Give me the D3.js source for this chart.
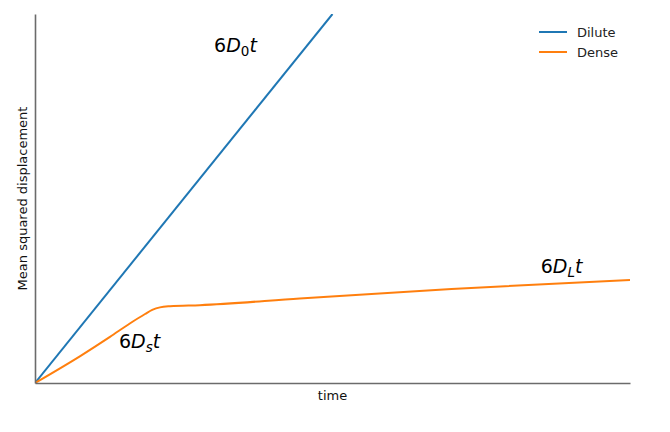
<!DOCTYPE html>
<html>
<head>
<meta charset="utf-8">
<script src="https://cdn.jsdelivr.net/npm/d3@7"></script>
<style>
  html, body { margin: 0; padding: 0; background: #fff; }
  svg { display: block; }
  text { font-family: "DejaVu Sans", sans-serif; }
</style>
</head>
<body>
<svg id="chart" width="670" height="432"></svg>
<script>
// Data (arbitrary time units 0-100, MSD units 0-100)
const dilute = [[0, 0], [50, 100]];
const dense = [
  [0, 0], [7.6, 7.3], [12.6, 12.5], [16, 16.2], [18.5, 18.7],
  [19.7, 19.8], [21.0, 20.5], [22.7, 20.8], [27.7, 21.1], [44.5, 22.9], [70, 25.5], [100, 27.9]
];
const seriesNames = ["Dilute", "Dense"];
const seriesColors = ["#1f77b4", "#ff7f0e"];
const annotations = [
  { base: "6D", sub: "0", tail: "t", x: 30.1, y: 89.7 },
  { base: "6D", sub: "s", tail: "t", x: 14.1, y: 9.5 },
  { base: "6D", sub: "L", tail: "t", x: 85.0, y: 29.8 }
];

const svg = d3.select("#chart");
const m = { left: 35, right: 40, top: 14, bottom: 49 };
const W = 670, H = 432;
const x = d3.scaleLinear().domain([0, 100]).range([m.left, W - m.right]);
const y = d3.scaleLinear().domain([0, 100]).range([H - m.bottom, m.top]);

svg.append("defs").append("clipPath").attr("id", "clip")
  .append("rect").attr("x", x(0)).attr("y", y(100))
  .attr("width", x(100) - x(0)).attr("height", y(0) - y(100));

const line = d3.line().x(d => x(d[0])).y(d => y(d[1]));
const lineSmooth = d3.line().x(d => x(d[0])).y(d => y(d[1])).curve(d3.curveMonotoneX);

const g = svg.append("g").attr("clip-path", "url(#clip)");
g.append("path").datum(dilute).attr("d", line)
  .attr("fill", "none").attr("stroke", seriesColors[0]).attr("stroke-width", 2);
g.append("path").datum(dense).attr("d", lineSmooth)
  .attr("fill", "none").attr("stroke", seriesColors[1]).attr("stroke-width", 2);

// Axes (spines only, no ticks)
const xAxis = d3.axisBottom(x).tickValues([]).tickSizeOuter(0);
const yAxis = d3.axisLeft(y).tickValues([]).tickSizeOuter(0);
const gx = svg.append("g").attr("transform", `translate(0,${y(0)})`).call(xAxis);
const gy = svg.append("g").attr("transform", `translate(${x(0)},0)`).call(yAxis);
[gx, gy].forEach(a => a.select(".domain").attr("stroke", "#6b6b6b").attr("stroke-width", 1.6));

svg.append("text").attr("x", (x(0) + x(100)) / 2).attr("y", 400)
  .attr("text-anchor", "middle").attr("font-size", 13).attr("fill", "#111").text("time");
svg.append("text")
  .attr("transform", `translate(27,${(y(0) + y(100)) / 2}) rotate(-90)`)
  .attr("text-anchor", "middle").attr("font-size", 13).attr("fill", "#111")
  .text("Mean squared displacement");

// Annotations
annotations.forEach(a => {
  const t = svg.append("text").attr("x", x(a.x)).attr("y", y(a.y))
    .attr("font-size", 19).attr("fill", "#000");
  t.append("tspan").text("6");
  t.append("tspan").attr("font-style", "italic").text("D");
  t.append("tspan").attr("font-style", a.sub === "0" ? "normal" : "italic")
    .attr("font-size", 13.5).attr("dy", 4).text(a.sub);
  t.append("tspan").attr("font-style", "italic").attr("dy", -4).text(a.tail);
});

// Legend
const lg = svg.append("g");
seriesNames.forEach((n, i) => {
  const yy = 32 + i * 20;
  lg.append("line").attr("x1", 539).attr("x2", 567).attr("y1", yy).attr("y2", yy)
    .attr("stroke", seriesColors[i]).attr("stroke-width", 2);
  lg.append("text").attr("x", 577).attr("y", yy + 4.5).attr("font-size", 13)
    .attr("fill", "#222").text(n);
});
</script>
</body>
</html>
